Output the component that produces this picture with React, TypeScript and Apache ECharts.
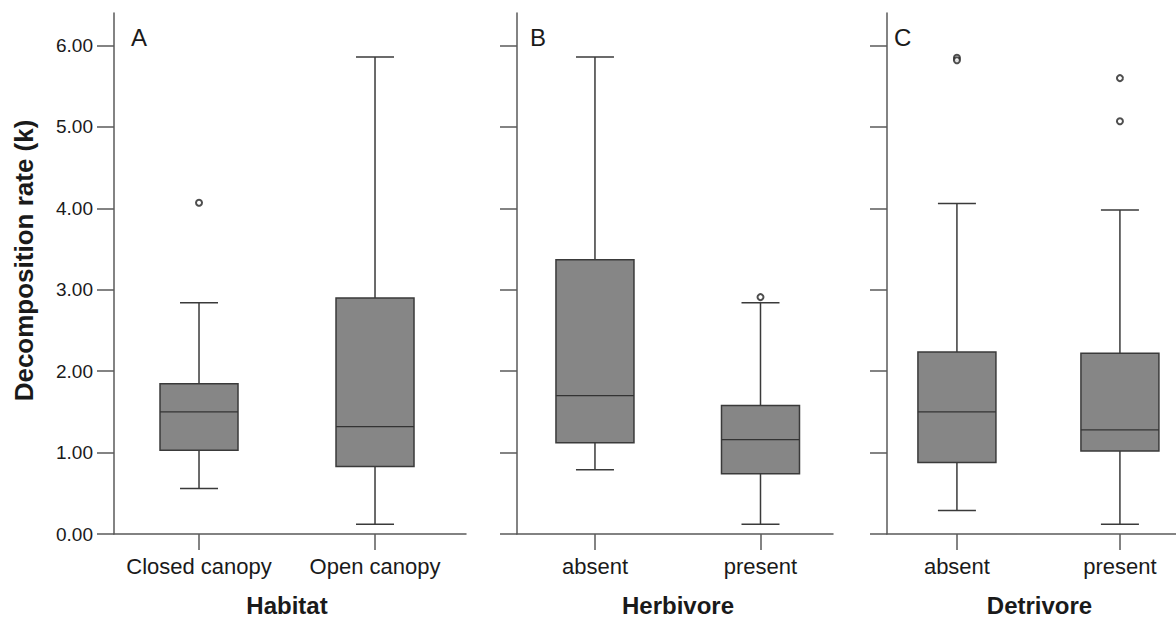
import React, { useEffect, useRef } from "react";
import * as echarts from "echarts";

// ---- data ----
const habitatCategories = ["Closed canopy", "Open canopy"];
const herbivoreCategories = ["absent", "present"];
const detrivoreCategories = ["absent", "present"];

// [min whisker, Q1, median, Q3, max whisker]
const habitatBoxes = [
  [0.56, 1.03, 1.5, 1.845, 2.84],
  [0.12, 0.83, 1.32, 2.9, 5.86],
];
const herbivoreBoxes = [
  [0.79, 1.12, 1.7, 3.37, 5.86],
  [0.12, 0.74, 1.16, 1.58, 2.84],
];
const detrivoreBoxes = [
  [0.29, 0.877, 1.5, 2.235, 4.06],
  [0.12, 1.02, 1.28, 2.22, 3.98],
];

// outliers: [category index, value]
const habitatOutliers = [[0, 4.07]];
const herbivoreOutliers = [[1, 2.91]];
const detrivoreOutliers = [
  [0, 5.85],
  [0, 5.82],
  [1, 5.6],
  [1, 5.07],
];

const yTicks = [0, 1, 2, 3, 4, 5, 6];
const panelLetters = ["A", "B", "C"];
const axisTitles = ["Habitat", "Herbivore", "Detrivore"];
const yTitle = "Decomposition rate (k)";

const FONT = "'Liberation Sans', Arial, Helvetica, sans-serif";
const TEXT = "#1a1a1a";
const AXIS = "#5a5a5a";
const LINE = "#3a3a3a";
const FILL = "#868686";

export default function App() {
  const ref = useRef<HTMLDivElement>(null);

  useEffect(() => {
    if (!ref.current) return;
    const chart = echarts.init(ref.current, null, { renderer: "svg" });

    const panels = [
      { cats: habitatCategories, boxes: habitatBoxes, outliers: habitatOutliers, left: 114, width: 352, xmin: -0.483, xmax: 1.517, shift: -3 },
      { cats: herbivoreCategories, boxes: herbivoreBoxes, outliers: herbivoreOutliers, left: 517, width: 316, xmin: -0.471, xmax: 1.438, shift: 3 },
      { cats: detrivoreCategories, boxes: detrivoreBoxes, outliers: detrivoreOutliers, left: 887, width: 289, xmin: -0.429, xmax: 1.344, shift: 8 },
    ];

    const top = 13;
    const height = 527;

    const grid = panels.map((p) => ({ left: p.left, top, width: p.width, height }));

    const xAxis = panels.map((p, i) => ({
      type: "value",
      gridIndex: i,
      min: p.xmin,
      max: p.xmax,
      splitLine: { show: false },
      axisLine: { show: true, onZero: false, lineStyle: { color: AXIS, width: 1.5 } },
      axisTick: { show: true, customValues: [0, 1], length: 16, lineStyle: { color: AXIS, width: 1.5 } },
      axisLabel: {
        show: true,
        customValues: [0, 1],
        formatter: (v: number) => p.cats[Math.round(v)] ?? "",
        fontSize: 22,
        color: TEXT,
        fontFamily: FONT,
        margin: 21,
      },
      name: axisTitles[i],
      nameLocation: "middle",
      nameGap: 59,
      nameTextStyle: {
        fontSize: 24,
        fontWeight: "bold",
        color: TEXT,
        fontFamily: FONT,
        padding: p.shift >= 0 ? [0, 0, 0, 2 * p.shift] : [0, -2 * p.shift, 0, 0],
      },
    }));

    const yAxis = panels.map((p, i) => ({
      type: "value",
      gridIndex: i,
      min: 0,
      max: 6.4,
      splitLine: { show: false },
      axisLine: { show: true, onZero: false, lineStyle: { color: AXIS, width: 1.5 } },
      axisTick: { show: true, customValues: yTicks, length: 17, lineStyle: { color: AXIS, width: 1.5 } },
      axisLabel: {
        show: i === 0,
        customValues: yTicks,
        formatter: (v: number) => v.toFixed(2),
        fontSize: 19,
        color: TEXT,
        fontFamily: FONT,
        margin: 21,
      },
      name: i === 0 ? yTitle : "",
      nameLocation: "middle",
      nameGap: 77,
      nameTextStyle: {
        fontSize: 26,
        fontWeight: "bold",
        color: TEXT,
        fontFamily: FONT,
        padding: [0, 0, 0, 26],
      },
    }));

    const series: any[] = [];
    panels.forEach((p, i) => {
      series.push({
        type: "custom",
        xAxisIndex: i,
        yAxisIndex: i,
        data: p.boxes.map((b, k) => [k, ...b]),
        encode: { x: 0, y: [1, 2, 3, 4, 5] },
        renderItem: (_params: any, api: any) => {
          const x = api.value(0);
          const lo = api.coord([x, api.value(1)]);
          const q1 = api.coord([x, api.value(2)]);
          const med = api.coord([x, api.value(3)]);
          const q3 = api.coord([x, api.value(4)]);
          const hi = api.coord([x, api.value(5)]);
          const cx = lo[0];
          const hb = 39;
          const hc = 19;
          const ls = { stroke: LINE, lineWidth: 1.5 };
          return {
            type: "group",
            children: [
              { type: "line", shape: { x1: cx, y1: hi[1], x2: cx, y2: q3[1] }, style: ls },
              { type: "line", shape: { x1: cx, y1: q1[1], x2: cx, y2: lo[1] }, style: ls },
              { type: "line", shape: { x1: cx - hc, y1: hi[1], x2: cx + hc, y2: hi[1] }, style: ls },
              { type: "line", shape: { x1: cx - hc, y1: lo[1], x2: cx + hc, y2: lo[1] }, style: ls },
              {
                type: "rect",
                shape: { x: cx - hb, y: q3[1], width: hb * 2, height: q1[1] - q3[1] },
                style: { fill: FILL, stroke: LINE, lineWidth: 1.5 },
              },
              { type: "line", shape: { x1: cx - hb, y1: med[1], x2: cx + hb, y2: med[1] }, style: { stroke: "#333", lineWidth: 1.2 } },
            ],
          };
        },
        z: 2,
      });
      series.push({
        type: "scatter",
        xAxisIndex: i,
        yAxisIndex: i,
        data: p.outliers,
        symbol: "emptyCircle",
        symbolSize: 6,
        itemStyle: { color: "#222", borderColor: "#222", borderWidth: 1.5 },
        z: 3,
      });
    });

    const letterX = [131, 530, 894];
    const graphic = panelLetters.map((t, i) => ({
      type: "text",
      left: letterX[i],
      top: 25,
      style: { text: t, fontSize: 24, fill: TEXT, fontFamily: FONT },
    }));

    chart.setOption({
      animation: false,
      backgroundColor: "#ffffff",
      grid,
      xAxis,
      yAxis,
      series,
      graphic,
    });

    return () => chart.dispose();
  }, []);

  return (
    <div
      ref={ref}
      style={{ position: "fixed", left: 0, top: 0, width: 1176, height: 622, background: "#fff" }}
    />
  );
}
